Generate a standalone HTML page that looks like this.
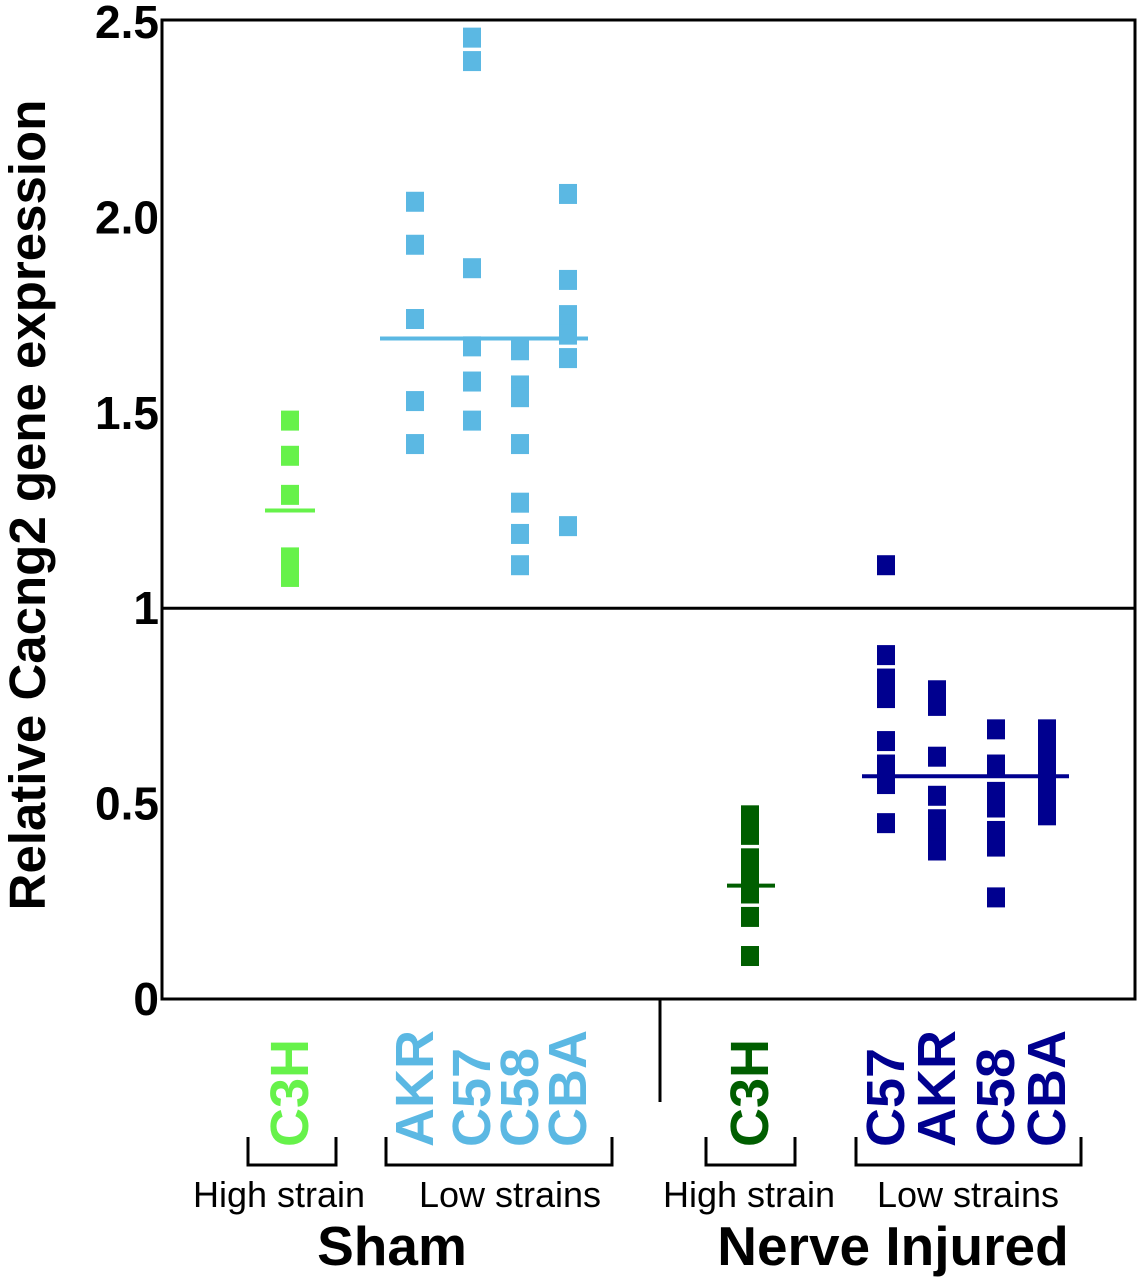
<!DOCTYPE html>
<html><head><meta charset="utf-8"><style>
html,body{margin:0;padding:0;background:#fff;}
svg{display:block;font-family:"Liberation Sans",Arial,sans-serif;}
</style></head><body>
<svg id="chart" width="1143" height="1280" viewBox="0 0 1143 1280">
<g id="axes"></g>
<g id="marks"></g>
<g id="labels"></g>
</svg>
<script>
const yTicks = [0, 0.5, 1, 1.5, 2.0, 2.5];
const yTickLabels = ["0", "0.5", "1", "1.5", "2.0", "2.5"];
const groupNames = ["sham-c3h","sham-akr","sham-c57","sham-c58","sham-cba","ni-c3h","ni-c57","ni-akr","ni-c58","ni-cba"];
const groupLabels = ["C3H","AKR","C57","C58","CBA","C3H","C57","AKR","C58","CBA"];
const groupX = [290, 415, 472, 520, 568, 750, 886, 937, 996, 1047];
const groupColors = ["#66f24a","#5bb8e3","#5bb8e3","#5bb8e3","#5bb8e3","#005e00","#00008f","#00008f","#00008f","#00008f"];
const shamC3H = [1.48, 1.39, 1.29, 1.13, 1.08];
const shamAKR = [2.04, 1.93, 1.74, 1.53, 1.42];
const shamC57 = [2.46, 2.40, 1.87, 1.67, 1.58, 1.48];
const shamC58 = [1.66, 1.57, 1.54, 1.42, 1.27, 1.19, 1.11];
const shamCBA = [2.06, 1.84, 1.75, 1.70, 1.64, 1.21];
const niC3H = [0.47, 0.42, 0.36, 0.32, 0.27, 0.21, 0.11];
const niC57 = [1.11, 0.88, 0.82, 0.77, 0.66, 0.60, 0.55, 0.45];
const niAKR = [0.79, 0.75, 0.62, 0.52, 0.46, 0.41, 0.38];
const niC58 = [0.69, 0.60, 0.53, 0.49, 0.43, 0.39, 0.26];
const niCBA = [0.69, 0.64, 0.59, 0.55, 0.50, 0.47];
const groupValues = [shamC3H, shamAKR, shamC57, shamC58, shamCBA, niC3H, niC57, niAKR, niC58, niCBA];
const meanValues = [1.25, 1.69, 0.29, 0.57];
const meanNames = ["sham-high-mean","sham-low-mean","ni-high-mean","ni-low-mean"];
const meanColors = ["#66f24a","#5bb8e3","#005e00","#00008f"];
const meanX1 = [265, 380, 727, 862];
const meanX2 = [315, 588, 775, 1069];

const NS = "http://www.w3.org/2000/svg";
const plotL = 162, plotR = 1135, plotT = 22, plotB = 999, yMax = 2.5;
function yScale(v){ return plotB - v / yMax * (plotB - plotT); }
function mk(tag, attrs, parent){ const e = document.createElementNS(NS, tag); for (const k in attrs) e.setAttribute(k, attrs[k]); parent.appendChild(e); return e; }
const axes = document.getElementById('axes'), marks = document.getElementById('marks'), labels = document.getElementById('labels');

let fr = mk('rect', {x:plotL, y:20, width:plotR-plotL, height:plotB-20, fill:'none', stroke:'#000', 'stroke-width':3}, axes);


let ref = mk('line', {x1:plotL, x2:plotR, y1:yScale(1), y2:yScale(1), stroke:'#000', 'stroke-width':3}, axes);


let dv = mk('line', {x1:660, x2:660, y1:plotB, y2:1102, stroke:'#000', 'stroke-width':3}, axes);



yTicks.forEach((t, i) => {
  const tx = mk('text', {x:159, y:yScale(t)+16, 'text-anchor':'end', 'font-size':46, 'font-weight':'bold'}, axes);
  tx.textContent = yTickLabels[i];
  
  
});
const yt = mk('text', {x:0, y:0, transform:'translate(45,505) rotate(-90)', 'text-anchor':'middle', 'font-size':51, 'font-weight':'bold'}, axes);
yt.textContent = 'Relative Cacng2 gene expression';



groupValues.forEach((vals, gi) => {
  vals.forEach(v => {
    const r = mk('rect', {x:groupX[gi]-9, y:yScale(v)-10, width:18, height:20, fill:groupColors[gi]}, marks);
    
    
  });
  const lb = mk('text', {x:0, y:0, transform:'translate(' + (groupX[gi] + 18) + ',1147) rotate(-90)', 'font-size':54, 'font-weight':'bold', fill:groupColors[gi]}, labels);
  lb.textContent = groupLabels[gi];
  
  
});
meanValues.forEach((m, i) => {
  const l = mk('line', {x1:meanX1[i], x2:meanX2[i], y1:yScale(m), y2:yScale(m), stroke:meanColors[i], 'stroke-width':4}, marks);
  
  
});

const br = [[248,336,'sham-high-bracket'],[386,612,'sham-low-bracket'],[706,795,'ni-high-bracket'],[856,1081,'ni-low-bracket']];
br.forEach(b => {
  const p = mk('path', {d:'M'+b[0]+' 1137 V1165 H'+b[1]+' V1137', fill:'none', stroke:'#000', 'stroke-width':3}, labels);
  
  
});
const sub = [[279,'High strain','sham-high-strain-label'],[510,'Low strains','sham-low-strains-label'],[749,'High strain','ni-high-strain-label'],[968,'Low strains','ni-low-strains-label']];
sub.forEach(s => {
  const t = mk('text', {x:s[0], y:1207, 'text-anchor':'middle', 'font-size':36}, labels);
  t.textContent = s[1];
  
  
});
const cond = [[392,'Sham','sham-label'],[893,'Nerve Injured','nerve-injured-label']];
cond.forEach(c => {
  const t = mk('text', {x:c[0], y:1265, 'text-anchor':'middle', 'font-size':55, 'font-weight':'bold'}, labels);
  t.textContent = c[1];
  
  
});
</script>
</body></html>
